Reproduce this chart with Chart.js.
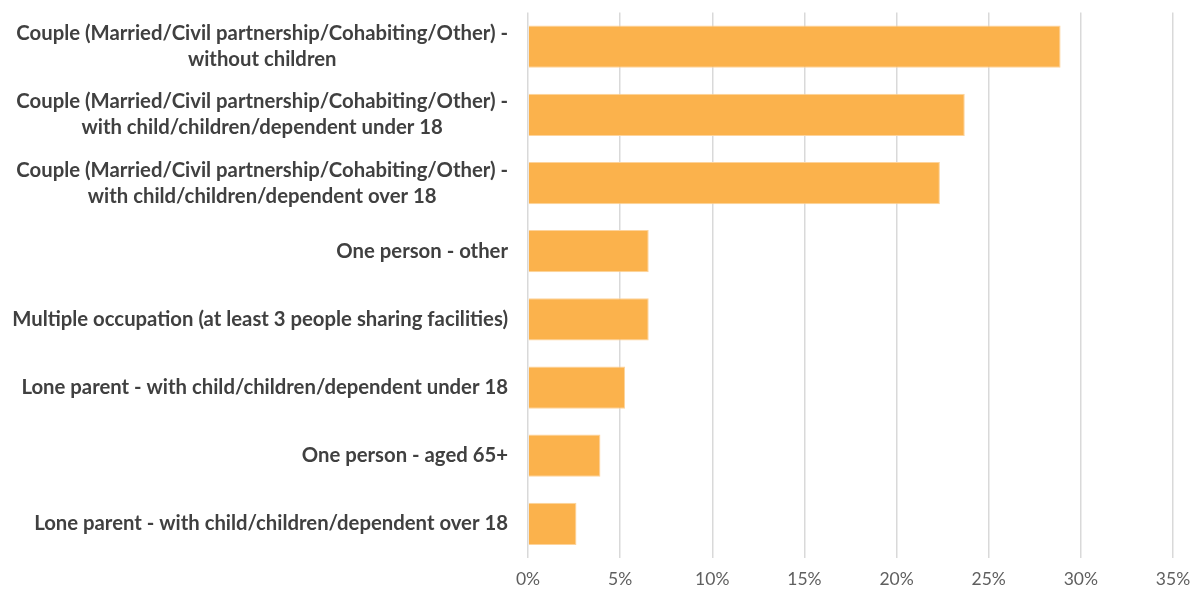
<!DOCTYPE html>
<html>
<head>
<meta charset="utf-8">
<script src="https://cdn.jsdelivr.net/npm/chart.js@4"></script>
<style>
  html, body { margin: 0; padding: 0; background: #ffffff; }
  #wrap { width: 1203px; height: 596px; position: relative; }
</style>
</head>
<body>
<div id="wrap"><canvas id="c" width="1203" height="596"></canvas></div>
<script>
const categories = [
  ["Couple (Married/Civil partnership/Cohabiting/Other) -", "without children"],
  ["Couple (Married/Civil partnership/Cohabiting/Other) -", "with child/children/dependent under 18"],
  ["Couple (Married/Civil partnership/Cohabiting/Other) -", "with child/children/dependent over 18"],
  ["One person - other"],
  ["Multiple occupation (at least 3 people sharing facilities)"],
  ["Lone parent - with child/children/dependent under 18"],
  ["One person - aged 65+"],
  ["Lone parent - with child/children/dependent over 18"]
];
const shares = [28.9, 23.7, 22.35, 6.55, 6.55, 5.27, 3.93, 2.63];
const axisMin = 0;
const axisMax = 35;
const axisStep = 5;

const LABEL_FAMILY = "Lato, 'Open Sans', 'Liberation Sans', sans-serif";
const LABEL_TARGET_WIDTH = 496;

const labelPlugin = {
  id: 'centeredLabels',
  afterDraw(chart) {
    const ctx = chart.ctx;
    const ys = chart.scales.y;
    const area = chart.chartArea;
    ctx.save();
    ctx.font = "bold 16px " + LABEL_FAMILY;
    let widest = 0;
    categories.forEach(ls => ls.forEach(l => { widest = Math.max(widest, ctx.measureText(l).width); }));
    const size = 16 * LABEL_TARGET_WIDTH / widest;
    ctx.font = "bold " + size.toFixed(2) + "px " + LABEL_FAMILY;
    ctx.fillStyle = '#404040';
    ctx.textAlign = 'center';
    ctx.textBaseline = 'middle';
    const right = area.left - 20;
    const lineH = 26;
    categories.forEach((ls, i) => {
      const y = ys.getPixelForTick(i);
      let mw = 0;
      ls.forEach(l => { mw = Math.max(mw, ctx.measureText(l).width); });
      const cx = right - mw / 2;
      ls.forEach((l, j) => {
        ctx.fillText(l, cx, y + (j - (ls.length - 1) / 2) * lineH);
      });
    });
    ctx.restore();
  }
};

new Chart(document.getElementById('c'), {
  type: 'bar',
  data: {
    labels: categories,
    datasets: [{
      data: shares,
      backgroundColor: '#fbb24c',
      borderColor: '#fdd39b',
      borderWidth: 1,
      categoryPercentage: 0.62,
      barPercentage: 1.0
    }]
  },
  options: {
    indexAxis: 'y',
    responsive: false,
    animation: false,
    layout: { padding: { top: 10, right: 30, left: 0, bottom: 0 } },
    plugins: { legend: { display: false }, tooltip: { enabled: false } },
    scales: {
      x: {
        min: axisMin,
        max: axisMax,
        ticks: {
          stepSize: axisStep,
          callback: v => v + '%',
          color: '#5f5f5f',
          font: { family: LABEL_FAMILY, size: 17.5 },
          padding: 11
        },
        grid: { color: '#d9d9d9', lineWidth: 1.5, drawTicks: false },
        border: { display: false },
        afterFit: s => { s.height = 38; }
      },
      y: {
        ticks: { color: 'rgba(0,0,0,0)', font: { size: 16 } },
        grid: { display: false },
        border: { display: false },
        afterFit: s => { s.width = 528; }
      }
    }
  },
  plugins: [labelPlugin]
});
</script>
</body>
</html>
